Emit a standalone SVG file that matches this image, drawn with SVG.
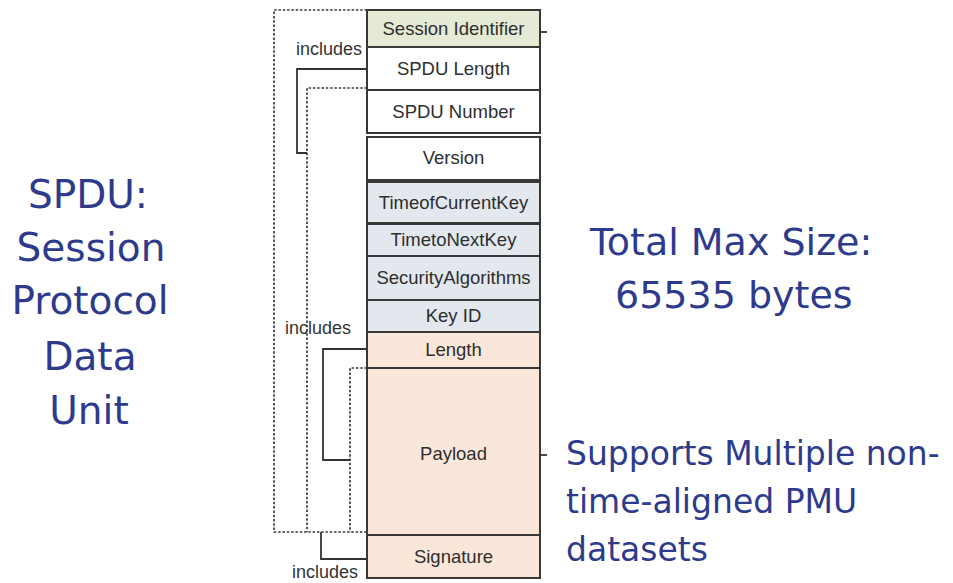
<svg xmlns="http://www.w3.org/2000/svg" width="953" height="583" viewBox="0 0 953 583">
<style>
.fld{stroke:#383838;stroke-width:2}
.g{fill:#e5ead5}
.w{fill:#ffffff}
.b{fill:#e3e7ee}
.p{fill:#fbe7da}
.ft{font-family:"Liberation Sans",Arial,sans-serif;font-size:18.5px;fill:#2e2e2e;text-anchor:middle}
.inc{font-family:"Liberation Sans",Arial,sans-serif;font-size:18px;fill:#333}
.big{font-family:"DejaVu Sans","Noto Sans",sans-serif;fill:#2e3b8c}
.dot{fill:none;stroke:#3a3a3a;stroke-width:1.7;stroke-dasharray:2.5 1.8}
.sol{fill:none;stroke:#333;stroke-width:1.8}
</style>
<rect width="953" height="583" fill="#ffffff"/>
<g id="connectors">
<path class="dot" d="M367,10 H274 V532 H367"/>
<path class="dot" d="M367,88 H307 V532"/>
<path class="dot" d="M367,368 H350 V532"/>
<path class="sol" d="M367,69 H297 V153 H307"/>
<path class="sol" d="M367,349 H323 V460 H350"/>
<path class="sol" d="M321,532 V559 H367"/>
<path class="sol" d="M540,32 H547"/>
<path class="sol" d="M540,455 H547"/>
</g>
<g id="session-identifier"><rect class="fld g" x="367" y="10" width="173" height="37"/><text class="ft" x="453.5" y="35">Session Identifier</text></g>
<g id="spdu-length"><rect class="fld w" x="367" y="47" width="173" height="43"/><text class="ft" x="453.5" y="75">SPDU Length</text></g>
<g id="spdu-number"><rect class="fld w" x="367" y="90" width="173" height="43"/><text class="ft" x="453.5" y="118">SPDU Number</text></g>
<g id="version"><rect class="fld w" x="367" y="137" width="173" height="43"/><text class="ft" x="453.5" y="164">Version</text></g>
<g id="time-of-current-key"><rect class="fld b" x="367" y="182" width="173" height="41"/><text class="ft" x="453.5" y="209">TimeofCurrentKey</text></g>
<g id="time-to-next-key"><rect class="fld b" x="367" y="224" width="173" height="32"/><text class="ft" x="453.5" y="246">TimetoNextKey</text></g>
<g id="security-algorithms"><rect class="fld b" x="367" y="256" width="173" height="44"/><text class="ft" x="453.5" y="284">SecurityAlgorithms</text></g>
<g id="key-id"><rect class="fld b" x="367" y="300" width="173" height="32"/><text class="ft" x="453.5" y="322">Key ID</text></g>
<g id="length"><rect class="fld p" x="367" y="332" width="173" height="36"/><text class="ft" x="453.5" y="356">Length</text></g>
<g id="payload"><rect class="fld p" x="367" y="368" width="173" height="167"/><text class="ft" x="453.5" y="460">Payload</text></g>
<g id="signature"><rect class="fld p" x="367" y="535" width="173" height="43"/><text class="ft" x="453.5" y="563">Signature</text></g>
<g id="labels">
<text class="inc" x="296" y="55">includes</text>
<text class="inc" x="285" y="334">includes</text>
<text class="inc" x="292" y="578">includes</text>
</g>
<g id="title" class="big" font-size="39" text-anchor="middle">
<text x="88" y="208">SPDU:</text>
<text x="91" y="261">Session</text>
<text x="90" y="314">Protocol</text>
<text x="90" y="370">Data</text>
<text x="89" y="424">Unit</text>
</g>
<g id="size-note" class="big" font-size="38">
<text x="590" y="255">Total Max Size:</text>
<text x="615" y="308">65535 bytes</text>
</g>
<g id="payload-note" class="big" font-size="33">
<text x="566" y="465">Supports Multiple non-</text>
<text x="566" y="513">time-aligned PMU</text>
<text x="566" y="561">datasets</text>
</g>
</svg>
